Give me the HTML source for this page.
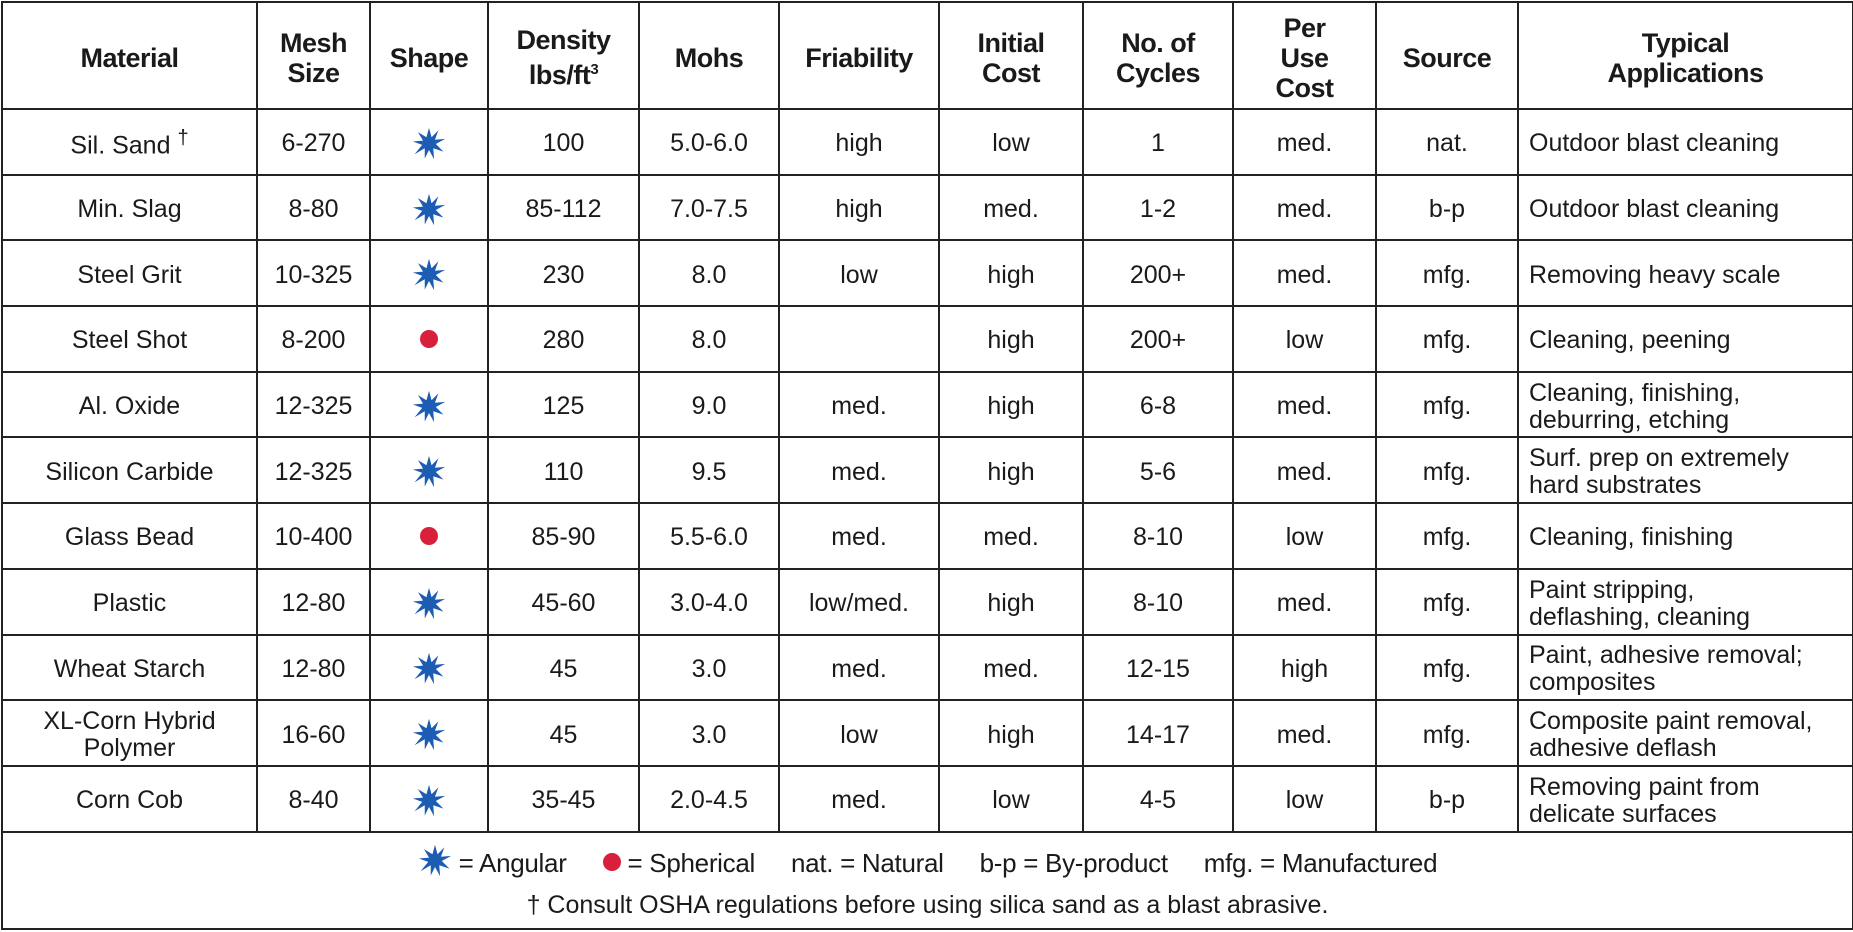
<!DOCTYPE html>
<html><head><meta charset="utf-8">
<style>
html,body{margin:0;padding:0;background:#fff;}
body{width:1853px;height:932px;position:relative;overflow:hidden;font-family:"Liberation Sans",Arial,sans-serif;color:#1a1a1a;}
table{position:absolute;left:1px;top:1px;border-collapse:collapse;table-layout:fixed;width:1851px;}
td,th{border:2px solid #222;text-align:center;vertical-align:middle;padding:0;font-size:25px;}
tr.r td{padding-top:4px;}
th{font-size:27px;font-weight:bold;line-height:30px;height:101px;letter-spacing:-0.5px;padding-top:4px;}
tr.r td{height:59.7px;}
td.app{text-align:left;padding-left:10px;line-height:27px;font-size:25px;}
.dot{display:inline-block;width:18px;height:18px;border-radius:50%;background:#d8203c;}
svg{vertical-align:middle;}
td.foot{height:95px;position:relative;}
.leg{position:absolute;left:0;right:0;top:10px;text-align:center;font-size:26px;letter-spacing:-0.3px;}
.leg .it{margin:0 18px;}
.fn{position:absolute;left:0;right:0;top:58px;text-align:center;font-size:25px;}
sup{font-size:15px;}
</style></head><body>
<svg width="0" height="0" style="position:absolute"><defs>
<symbol id="st" viewBox="-20 -20 40 40"><polygon fill="#1c5cb3" points="0,-19 3,-8 11,-16 7,-5 19,-6 8,0 17,9 5,5 6,18 0,7 -5,17 -5,5 -17,12 -8,1 -19,-3 -7,-4 -13,-14 -3,-8"/></symbol>
</defs></svg>
<table>
<colgroup><col style="width:255px"><col style="width:113px"><col style="width:118px"><col style="width:151px"><col style="width:140px"><col style="width:160px"><col style="width:144px"><col style="width:150px"><col style="width:143px"><col style="width:142px"><col style="width:335px"></colgroup>
<tr><th>Material</th><th>Mesh<br>Size</th><th>Shape</th><th>Density<br>lbs/ft<sup>3</sup></th><th>Mohs</th><th>Friability</th><th>Initial<br>Cost</th><th>No. of<br>Cycles</th><th>Per<br>Use<br>Cost</th><th>Source</th><th>Typical<br>Applications</th></tr>
<tr class="r"><td>Sil. Sand <sup style="font-size:20px">†</sup></td><td>6-270</td><td><svg width="34" height="34"><use href="#st"/></svg></td><td>100</td><td>5.0-6.0</td><td>high</td><td>low</td><td>1</td><td>med.</td><td>nat.</td><td class="app">Outdoor blast cleaning</td></tr>
<tr class="r"><td>Min. Slag</td><td>8-80</td><td><svg width="34" height="34"><use href="#st"/></svg></td><td>85-112</td><td>7.0-7.5</td><td>high</td><td>med.</td><td>1-2</td><td>med.</td><td>b-p</td><td class="app">Outdoor blast cleaning</td></tr>
<tr class="r"><td>Steel Grit</td><td>10-325</td><td><svg width="34" height="34"><use href="#st"/></svg></td><td>230</td><td>8.0</td><td>low</td><td>high</td><td>200+</td><td>med.</td><td>mfg.</td><td class="app">Removing heavy scale</td></tr>
<tr class="r"><td>Steel Shot</td><td>8-200</td><td><span class="dot"></span></td><td>280</td><td>8.0</td><td></td><td>high</td><td>200+</td><td>low</td><td>mfg.</td><td class="app">Cleaning, peening</td></tr>
<tr class="r"><td>Al. Oxide</td><td>12-325</td><td><svg width="34" height="34"><use href="#st"/></svg></td><td>125</td><td>9.0</td><td>med.</td><td>high</td><td>6-8</td><td>med.</td><td>mfg.</td><td class="app">Cleaning, finishing,<br>deburring, etching</td></tr>
<tr class="r"><td>Silicon Carbide</td><td>12-325</td><td><svg width="34" height="34"><use href="#st"/></svg></td><td>110</td><td>9.5</td><td>med.</td><td>high</td><td>5-6</td><td>med.</td><td>mfg.</td><td class="app">Surf. prep on extremely<br>hard substrates</td></tr>
<tr class="r"><td>Glass Bead</td><td>10-400</td><td><span class="dot"></span></td><td>85-90</td><td>5.5-6.0</td><td>med.</td><td>med.</td><td>8-10</td><td>low</td><td>mfg.</td><td class="app">Cleaning, finishing</td></tr>
<tr class="r"><td>Plastic</td><td>12-80</td><td><svg width="34" height="34"><use href="#st"/></svg></td><td>45-60</td><td>3.0-4.0</td><td>low/med.</td><td>high</td><td>8-10</td><td>med.</td><td>mfg.</td><td class="app">Paint stripping,<br>deflashing, cleaning</td></tr>
<tr class="r"><td>Wheat Starch</td><td>12-80</td><td><svg width="34" height="34"><use href="#st"/></svg></td><td>45</td><td>3.0</td><td>med.</td><td>med.</td><td>12-15</td><td>high</td><td>mfg.</td><td class="app">Paint, adhesive removal;<br>composites</td></tr>
<tr class="r"><td style="line-height:27px">XL-Corn Hybrid<br>Polymer</td><td>16-60</td><td><svg width="34" height="34"><use href="#st"/></svg></td><td>45</td><td>3.0</td><td>low</td><td>high</td><td>14-17</td><td>med.</td><td>mfg.</td><td class="app">Composite paint removal,<br>adhesive deflash</td></tr>
<tr class="r"><td>Corn Cob</td><td>8-40</td><td><svg width="34" height="34"><use href="#st"/></svg></td><td>35-45</td><td>2.0-4.5</td><td>med.</td><td>low</td><td>4-5</td><td>low</td><td>b-p</td><td class="app">Removing paint from<br>delicate surfaces</td></tr>
<tr><td colspan="11" class="foot">
<div class="leg"><span class="it"><svg width="34" height="36" style="vertical-align:-7px"><use href="#st"/></svg> = Angular</span><span class="it"><span class="dot" style="vertical-align:1px"></span> = Spherical</span><span class="it">nat. = Natural</span><span class="it">b-p = By-product</span><span class="it">mfg. = Manufactured</span></div>
<div class="fn">† Consult OSHA regulations before using silica sand as a blast abrasive.</div>
</td></tr>
</table>
</body></html>
